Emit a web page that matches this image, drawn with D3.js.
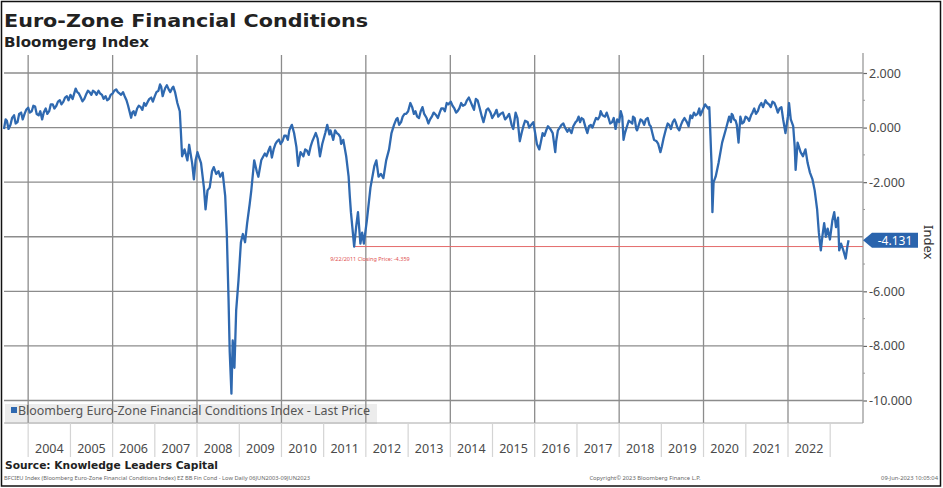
<!DOCTYPE html>
<html>
<head>
<meta charset="utf-8">
<script src="https://cdn.jsdelivr.net/npm/d3@7/dist/d3.min.js"></script>
<style>
  html, body { margin: 0; padding: 0; background: #fff; }
  svg { display: block; }
</style>
</head>
<body>
<svg id="chart" width="943" height="488"></svg>
<script>
// ---------- DATA ----------
const titleText = "Euro-Zone Financial Conditions";
const subtitleText = "Bloomgerg Index";
const sourceText = "Source: Knowledge Leaders Capital";
const footerLeft = "BFCIEU Index (Bloomberg Euro-Zone Financial Conditions Index) EZ BB Fin Cond - Low  Daily 06JUN2003-09JUN2023";
const footerMid = "Copyright\u00A9 2023 Bloomberg Finance L.P.";
const footerRight = "09-Jun-2023 10:05:04";
const legendLabel = "Bloomberg Euro-Zone Financial Conditions Index - Last Price";
const yAxisTitle = "Index";
const lastValue = -4.131;
const lowDate = "2011-09-22";
const lowValue = -4.359;
const lowLabel = "9/22/2011 Closing Price: -4.359";
const yTicks = [2, 0, -2, -4, -6, -8, -10];
const yTickLabels = [2, 0, -2, -6, -8, -10];   // -4.000 is hidden under the last-value tag
const yMinorTicks = [1, -1, -3, -5, -7, -9];
const years = [2004,2005,2006,2007,2008,2009,2010,2011,2012,2013,2014,2015,2016,2017,2018,2019,2020,2021,2022];
const gridYears = [2004,2006,2008,2010,2012,2014,2016,2018,2020,2022];

const dates = [
"2003-06-06","2003-07-01","2003-08-01","2003-09-01","2003-10-01","2003-11-01","2003-12-01",
"2004-01-01","2004-02-01","2004-03-01","2004-04-01","2004-05-01","2004-06-01","2004-07-01","2004-08-01","2004-09-01","2004-10-01","2004-11-01","2004-12-01",
"2005-01-01","2005-02-15","2005-03-15","2005-04-15","2005-05-15","2005-06-15","2005-08-01","2005-09-15","2005-10-15","2005-11-15","2005-12-15",
"2006-01-15","2006-02-15","2006-03-15","2006-04-15","2006-05-15","2006-06-10","2006-07-01","2006-08-01","2006-09-01","2006-10-01","2006-11-01","2006-12-01",
"2007-01-01","2007-02-15","2007-03-10","2007-04-01","2007-05-01","2007-06-01","2007-06-25","2007-07-15","2007-08-05","2007-08-15","2007-08-25","2007-09-15","2007-10-10","2007-10-25","2007-11-20","2007-12-05","2007-12-20",
"2008-01-05","2008-01-20","2008-02-05","2008-03-01","2008-03-15","2008-04-01","2008-04-20","2008-05-10","2008-05-25","2008-06-15","2008-07-05","2008-07-20","2008-08-10","2008-09-01","2008-09-15","2008-09-30","2008-10-10","2008-10-25","2008-11-05","2008-11-20","2008-12-05","2008-12-25",
"2009-01-15","2009-02-01","2009-02-20","2009-03-10","2009-04-01","2009-04-15","2009-05-10","2009-06-01","2009-06-15","2009-07-10","2009-08-10","2009-09-10","2009-10-10","2009-11-10","2009-12-10",
"2010-01-10","2010-02-10","2010-03-10","2010-04-01","2010-04-20","2010-05-10","2010-05-25","2010-06-15","2010-07-10","2010-08-10","2010-09-10","2010-10-10","2010-11-10","2010-11-30","2010-12-20",
"2011-01-15","2011-02-01","2011-02-20","2011-03-15","2011-04-10","2011-05-10","2011-06-01","2011-06-20","2011-07-15","2011-08-05","2011-08-15","2011-08-25","2011-09-22","2011-10-10","2011-10-25","2011-11-15","2011-11-30","2011-12-15",
"2012-01-10","2012-02-10","2012-03-15","2012-04-01","2012-04-20","2012-05-10","2012-06-01","2012-06-25","2012-07-20","2012-08-10","2012-09-01","2012-09-20","2012-10-15","2012-11-15","2012-12-15",
"2013-01-20","2013-02-20","2013-03-20","2013-04-20","2013-05-20","2013-06-25","2013-07-25","2013-09-01","2013-10-01","2013-11-01","2013-12-01",
"2014-01-20","2014-02-20","2014-03-20","2014-04-20","2014-06-10","2014-07-10","2014-08-01","2014-08-25","2014-09-25","2014-10-15","2014-11-10","2014-12-15",
"2015-01-20","2015-02-20","2015-04-01","2015-05-10","2015-06-05","2015-06-30","2015-07-20","2015-08-25","2015-09-25","2015-11-01","2015-12-01",
"2016-01-20","2016-02-10","2016-03-10","2016-04-10","2016-05-15","2016-06-27","2016-07-20","2016-08-20","2016-09-20","2016-10-25","2016-11-15","2016-12-20",
"2017-01-15","2017-02-10","2017-03-10","2017-04-01","2017-05-01","2017-06-01","2017-07-01","2017-07-25","2017-09-01","2017-10-01","2017-11-01","2017-12-01",
"2018-01-15","2018-02-08","2018-03-10","2018-04-10","2018-05-01","2018-05-29","2018-06-20","2018-07-20","2018-08-20","2018-09-20","2018-10-15","2018-11-20","2018-12-24",
"2019-01-20","2019-02-10","2019-03-10","2019-04-10","2019-05-20","2019-06-20","2019-07-20","2019-08-10","2019-09-10","2019-10-10","2019-11-10","2019-12-20",
"2020-01-15","2020-02-10","2020-02-20","2020-03-01","2020-03-10","2020-03-18","2020-03-28","2020-04-15","2020-05-10","2020-06-10","2020-07-10","2020-08-10","2020-09-01","2020-09-20","2020-10-15","2020-10-30","2020-11-15","2020-12-15",
"2021-01-15","2021-02-15","2021-03-15","2021-04-15","2021-05-15","2021-06-20","2021-07-20","2021-08-20","2021-09-20","2021-10-20","2021-11-20","2021-12-10","2021-12-31",
"2022-01-10","2022-01-25","2022-02-15","2022-02-28","2022-03-08","2022-03-25","2022-04-20","2022-05-10","2022-06-01","2022-06-20","2022-07-10","2022-08-01","2022-08-20","2022-09-10","2022-09-25","2022-10-12","2022-10-25","2022-11-10","2022-11-25","2022-12-10","2022-12-30",
"2023-01-20","2023-02-05","2023-02-20","2023-03-10","2023-03-20","2023-04-05","2023-04-25","2023-05-15","2023-05-30","2023-06-09"
];
const values = [
-0.05,0.25,0.10,0.45,0.20,0.55,0.50,
0.73,0.60,0.77,0.45,0.30,0.70,0.60,0.85,0.80,1.00,0.95,1.15,
1.20,1.43,1.25,0.96,1.20,1.30,1.30,1.25,1.05,1.00,1.20,
1.35,1.30,1.20,1.15,0.80,0.36,0.60,0.70,0.75,0.90,0.95,1.10,
1.15,1.58,1.15,1.45,1.40,1.45,1.30,0.90,0.60,-0.20,-1.05,-0.80,-1.20,-0.63,-1.30,-1.90,-1.20,
-0.90,-1.10,-1.30,-2.20,-3.00,-2.30,-2.20,-1.60,-1.45,-1.70,-1.60,-1.80,-1.65,-2.50,-3.90,-6.30,-8.20,-9.75,-7.80,-8.80,-6.70,-5.60,
-4.20,-3.90,-4.20,-3.50,-2.80,-2.30,-1.20,-1.60,-1.80,-1.20,-0.95,-0.85,-1.10,-0.60,-0.44,
-0.50,-0.30,-0.10,0.10,-0.20,-0.70,-1.40,-0.90,-1.05,-0.85,-0.70,-0.35,-0.40,-1.05,-0.60,
-0.20,0.10,-0.25,-0.30,-0.10,-0.25,-0.60,-0.45,-1.05,-1.80,-2.50,-3.10,-4.359,-3.60,-3.10,-4.25,-3.85,-4.25,
-3.40,-2.20,-1.40,-1.20,-1.80,-1.70,-1.85,-1.20,-0.80,-0.20,0.10,0.30,0.10,0.40,0.50,
0.90,0.50,0.40,0.60,0.50,0.15,0.40,0.45,0.55,0.70,0.90,
0.80,0.55,0.70,0.80,1.10,0.80,0.85,1.00,0.50,0.20,0.65,0.55,
0.50,0.40,0.55,0.40,0.30,-0.05,0.55,-0.50,0.05,0.20,0.10,
-0.60,-0.80,-0.20,-0.10,-0.05,-0.90,-0.10,0.10,0.00,-0.05,-0.20,0.20,
0.40,0.35,0.10,-0.20,0.10,0.20,0.30,0.60,0.40,0.35,0.20,-0.05,
0.60,-0.45,0.05,0.20,0.40,-0.05,0.10,0.25,0.30,0.10,-0.20,-0.50,-0.90,
-0.40,-0.05,0.10,0.20,0.00,0.10,0.35,0.20,0.45,0.55,0.50,0.60,
0.85,0.70,0.75,-0.30,-1.30,-3.10,-2.00,-1.80,-1.30,-0.55,-0.10,0.40,0.50,0.30,0.10,-0.55,0.40,0.20,
0.35,0.45,0.70,0.60,0.90,1.00,0.85,0.95,0.75,0.70,0.30,-0.20,0.40,
0.90,0.30,0.05,-0.70,-1.55,-0.55,-0.90,-1.05,-0.80,-1.30,-1.65,-1.90,-2.30,-3.00,-3.85,-4.50,-4.00,-3.50,-4.00,-3.70,-4.10,
-3.40,-3.10,-3.65,-3.30,-4.50,-4.25,-4.50,-4.80,-4.35,-4.131
];
// finer wiggles read between the points above
const detailDates = [
"2003-06-20","2003-07-15","2003-08-15","2003-09-15","2003-10-15","2003-11-15","2003-12-15",
"2004-01-15","2004-02-15","2004-03-15","2004-04-15","2004-05-15","2004-06-15","2004-07-15","2004-08-15","2004-09-15","2004-10-15","2004-11-15","2004-12-15",
"2005-01-20","2005-03-01","2005-04-01","2005-05-01","2005-06-01","2005-07-01","2005-07-15","2005-08-15","2005-09-01","2005-10-01","2005-11-01","2005-12-01",
"2006-01-01","2006-02-01","2006-03-01","2006-04-01","2006-05-01","2006-06-20","2006-07-15","2006-08-15","2006-09-15","2006-10-15","2006-11-15","2006-12-15",
"2007-01-15","2007-02-01","2007-02-25","2007-03-20","2007-04-15","2007-05-15","2007-06-10",
"2009-08-25","2009-09-25","2009-10-25","2009-11-25","2009-12-25","2010-01-25","2010-02-25","2010-03-20",
"2010-07-25","2010-08-25","2010-09-25","2010-10-25","2011-03-01","2011-03-25","2011-04-25","2011-05-25",
"2012-10-01","2012-11-01","2012-12-01","2013-01-01","2013-02-05","2013-03-05","2013-04-05","2013-05-05","2013-06-10","2013-07-10","2013-08-10","2013-09-15","2013-10-15","2013-11-15","2013-12-15",
"2014-01-05","2014-02-05","2014-03-05","2014-04-05","2014-05-10","2014-05-25","2014-06-25","2014-07-25","2014-08-10","2014-09-10","2014-10-01","2014-10-30","2014-11-25","2014-12-30",
"2015-02-05","2015-03-10","2015-04-20","2015-05-25","2015-06-15","2015-07-10","2015-08-05","2015-09-10","2015-10-10","2015-11-15","2015-12-20",
"2016-01-05","2016-02-25","2016-03-25","2016-04-25","2016-06-05","2016-07-05","2016-08-05","2016-09-05","2016-10-10","2016-11-30",
"2017-01-01","2017-01-28","2017-02-25","2017-03-20","2017-04-15","2017-05-15","2017-06-15","2017-07-15","2017-08-10","2017-09-15","2017-10-15","2017-11-15","2017-12-15",
"2018-01-01","2018-01-28","2018-02-20","2018-03-25","2018-04-25","2018-05-15","2018-06-05","2018-07-05","2018-08-05","2018-09-05","2018-10-01","2018-10-30","2018-12-05",
"2019-01-05","2019-02-25","2019-03-25","2019-04-25","2019-05-05","2019-06-05","2019-07-05","2019-08-25","2019-09-25","2019-10-25","2019-11-25","2019-12-05",
"2020-08-25","2020-09-10","2020-10-05","2020-11-30","2020-12-30","2021-01-30","2021-02-28","2021-03-30","2021-04-30","2021-05-30","2021-07-05","2021-08-05","2021-09-05","2021-10-05","2021-11-05"
];
const detailValues = [
0.30,-0.05,0.35,0.15,0.50,0.30,0.65,
0.55,0.80,0.50,0.60,0.55,0.50,0.85,0.70,0.95,0.85,1.10,1.00,
1.05,1.30,1.10,1.05,1.35,1.20,1.35,1.20,1.35,1.20,1.15,1.05,
1.25,1.40,1.25,1.30,1.00,0.55,0.45,0.80,0.65,0.80,1.05,0.95,
1.30,1.35,1.50,1.30,1.55,1.30,1.50,
-1.05,-0.70,-0.80,-0.50,-0.60,-0.30,-0.45,0.00,
-0.80,-1.00,-0.50,-0.20,-0.10,-0.45,-0.20,-0.35,
0.35,0.20,0.50,0.60,0.75,0.60,0.35,0.75,0.35,0.30,0.55,0.35,0.70,0.60,0.85,
0.95,0.70,0.60,0.90,0.85,1.00,0.95,0.65,1.05,0.75,0.40,0.45,0.70,0.35,
0.65,0.50,0.30,0.50,0.10,0.25,0.35,-0.20,0.25,0.00,0.20,
-0.20,-0.50,-0.30,0.05,-0.20,-0.50,0.00,0.15,-0.15,0.05,
0.25,0.20,0.30,-0.05,0.05,0.00,0.35,0.40,0.45,0.55,0.15,0.35,0.30,
0.20,0.40,-0.20,0.25,0.15,0.35,-0.10,0.30,0.10,0.35,0.05,-0.45,-0.60,
-0.70,0.15,-0.05,0.30,0.20,-0.10,0.25,0.05,0.35,0.45,0.70,0.45,
0.20,0.45,0.25,0.15,0.40,0.25,0.55,0.50,0.80,0.75,0.90,0.75,0.90,0.55,0.75
];

// ---------- LAYOUT ----------
const W = 943, H = 488;
const plot = { left: 4, right: 863, top: 55, bottom: 423 };
const bandBottom = 457;
const parse = d3.timeParse("%Y-%m-%d");
const series = dates.map((d, i) => ({ date: parse(d), value: values[i] }))
  .concat(detailDates.map((d, i) => ({ date: parse(d), value: detailValues[i] })))
  .sort((a, b) => a.date - b.date);

const svg = d3.select("#chart");
const x = d3.scaleTime()
  .domain([parse("2003-06-06"), parse("2023-10-12")])
  .range([plot.left, plot.right]);
const y = d3.scaleLinear().domain([-10, 2]).range([400.5, 73]);

const gridColor = "#8c8c8c";
const textColor = "#4a4a4a";
const lineColor = "#2f69b0";
const sans = "'Noto Sans', 'Open Sans', sans-serif";

svg.append("rect").attr("x", 0).attr("y", 0).attr("width", W).attr("height", H).attr("fill", "#fff");

// legend background (under gridlines)
svg.append("rect")
  .attr("x", plot.left + 1).attr("y", 404).attr("width", 372).attr("height", 20)
  .attr("fill", "#ececec");

// horizontal gridlines
svg.append("g").selectAll("line").data(yTicks).join("line")
  .attr("x1", plot.left).attr("x2", plot.right)
  .attr("y1", d => y(d)).attr("y2", d => y(d))
  .attr("stroke", gridColor).attr("stroke-width", 1.3);

// vertical gridlines (every two years)
svg.append("g").selectAll("line").data(gridYears).join("line")
  .attr("x1", d => x(new Date(d, 0, 1))).attr("x2", d => x(new Date(d, 0, 1)))
  .attr("y1", plot.top).attr("y2", plot.bottom)
  .attr("stroke", gridColor).attr("stroke-width", 1.3);

// bottom border of plot
svg.append("line")
  .attr("x1", plot.left).attr("x2", plot.right)
  .attr("y1", plot.bottom).attr("y2", plot.bottom)
  .attr("stroke", "#a8a8a8").attr("stroke-width", 1);

// x band separators
const sepYears = years.concat([2023]);
svg.append("g").selectAll("line").data(sepYears).join("line")
  .attr("x1", d => x(new Date(d, 0, 1))).attr("x2", d => x(new Date(d, 0, 1)))
  .attr("y1", plot.bottom).attr("y2", bandBottom)
  .attr("stroke", "#d4d4d4").attr("stroke-width", 1.2);

// year labels
svg.append("g").selectAll("text").data(years).join("text")
  .attr("x", d => x(new Date(d, 6, 2)))
  .attr("y", 453)
  .attr("text-anchor", "middle")
  .attr("font-family", sans)
  .attr("font-size", 12.5)
  .attr("fill", textColor)
  .text(d => d);

// legend content
svg.append("rect").attr("x", 11).attr("y", 407).attr("width", 6).attr("height", 6).attr("fill", lineColor);
svg.append("text")
  .attr("x", 18).attr("y", 414.5)
  .attr("font-family", sans)
  .attr("font-size", 12)
  .attr("textLength", 352).attr("lengthAdjust", "spacingAndGlyphs")
  .attr("fill", "#555")
  .text(legendLabel);

// y axis (right)
const yAxis = d3.axisRight(y).tickValues(yTickLabels).tickSize(4).tickPadding(2)
  .tickFormat(d => d.toFixed(3));
const gy = svg.append("g").attr("transform", `translate(${plot.right},0)`).call(yAxis);
gy.select(".domain").remove();
gy.selectAll(".tick line").attr("stroke", "#666").attr("stroke-width", 1.2);
gy.selectAll(".tick text")
  .attr("font-family", sans)
  .attr("font-size", 12.5)
  .attr("fill", textColor);
svg.append("line")
  .attr("x1", plot.right).attr("x2", plot.right)
  .attr("y1", plot.top - 2).attr("y2", plot.bottom)
  .attr("stroke", "#9a9a9a").attr("stroke-width", 1.3);
svg.append("g").selectAll("line").data(yMinorTicks).join("line")
  .attr("x1", plot.right).attr("x2", plot.right + 2)
  .attr("y1", d => y(d)).attr("y2", d => y(d))
  .attr("stroke", "#999").attr("stroke-width", 1);

// axis title
svg.append("text")
  .attr("transform", `translate(924, ${y(-4.2)}) rotate(90)`)
  .attr("text-anchor", "middle")
  .attr("font-family", sans)
  .attr("font-size", 13)
  .attr("fill", "#333")
  .text(yAxisTitle);

// low annotation line
svg.append("line")
  .attr("x1", x(parse(lowDate))).attr("x2", plot.right)
  .attr("y1", y(lowValue)).attr("y2", y(lowValue))
  .attr("stroke", "#e46a6a").attr("stroke-width", 1);
svg.append("text")
  .attr("x", x(parse(lowDate)) - 24).attr("y", y(lowValue) + 14)
  .attr("font-family", sans)
  .attr("font-size", 5.5)
  .attr("fill", "#e05050")
  .text(lowLabel);

// series line
svg.append("path")
  .datum(series)
  .attr("fill", "none")
  .attr("stroke", lineColor)
  .attr("stroke-width", 2.3)
  .attr("stroke-linejoin", "round")
  .attr("d", d3.line().x(d => x(d.date)).y(d => y(d.value)));

// last value tag
const ly = y(lastValue);
const tagL = plot.right + 3, tagR = 918, tagH = 15;
svg.append("path")
  .attr("d", `M${plot.right},${ly} L${tagL + 6},${ly - tagH / 2} L${tagR},${ly - tagH / 2} L${tagR},${ly + tagH / 2} L${tagL + 6},${ly + tagH / 2} Z`)
  .attr("fill", "#2a64ad");
svg.append("text")
  .attr("x", (tagL + 6 + tagR) / 2).attr("y", ly + 4.5)
  .attr("text-anchor", "middle")
  .attr("font-family", sans)
  .attr("font-size", 12)
  .attr("fill", "#fff")
  .text(lastValue.toFixed(3));

// titles
const boldFont = "'DejaVu Sans', Verdana, sans-serif";
svg.append("text")
  .attr("x", 4).attr("y", 27)
  .attr("font-family", boldFont).attr("font-weight", "bold").attr("font-size", 18.5)
  .attr("textLength", 364).attr("lengthAdjust", "spacingAndGlyphs")
  .attr("fill", "#222").text(titleText);
svg.append("text")
  .attr("x", 4).attr("y", 47)
  .attr("font-family", boldFont).attr("font-weight", "bold").attr("font-size", 13.5)
  .attr("textLength", 145).attr("lengthAdjust", "spacingAndGlyphs")
  .attr("fill", "#222").text(subtitleText);

// source
svg.append("text")
  .attr("x", 5).attr("y", 469)
  .attr("font-family", boldFont).attr("font-weight", "bold").attr("font-size", 11)
  .attr("textLength", 213).attr("lengthAdjust", "spacingAndGlyphs")
  .attr("fill", "#222").text(sourceText);

// footer
const footStyle = sel => sel
  .attr("font-family", sans)
  .attr("font-size", 5.8)
  .attr("fill", "#666");
svg.append("text").attr("x", 4).attr("y", 480).call(footStyle)
  .attr("textLength", 306).attr("lengthAdjust", "spacingAndGlyphs").text(footerLeft);
svg.append("text").attr("x", 645).attr("y", 480).attr("text-anchor", "middle").call(footStyle).text(footerMid);
svg.append("text").attr("x", 938).attr("y", 480).attr("text-anchor", "end").call(footStyle).text(footerRight);

// outer frame
svg.append("rect")
  .attr("x", 1.5).attr("y", 1.5).attr("width", W - 4).attr("height", H - 3.5)
  .attr("fill", "none").attr("stroke", "#111").attr("stroke-width", 1.5);
</script>
</body>
</html>
